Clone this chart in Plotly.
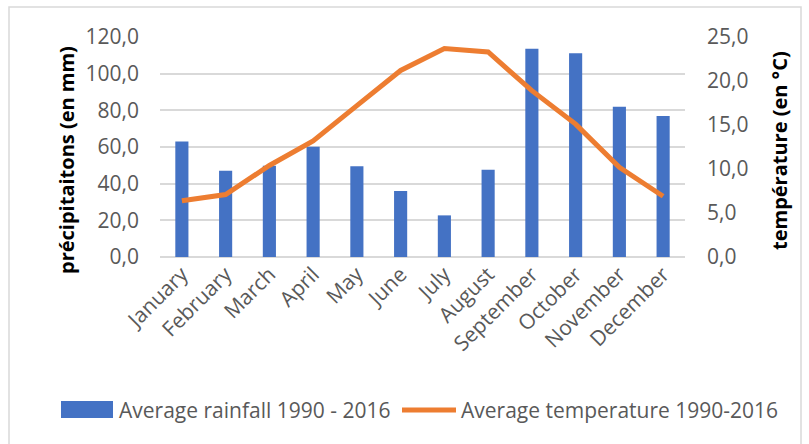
import plotly.graph_objects as go

months = ["January", "February", "March", "April", "May", "June", "July",
          "August", "September", "October", "November", "December"]
rainfall = [63.0, 47.0, 49.8, 60.2, 49.5, 36.0, 22.7, 47.6, 113.6, 111.1, 82.0, 76.9]
temperature = [6.4, 7.1, 10.4, 13.2, 17.2, 21.2, 23.7, 23.3, 18.9, 15.1, 10.2, 6.9]

left_ticks = [0, 20, 40, 60, 80, 100, 120]
right_ticks = [0, 5, 10, 15, 20, 25]

rain_name = "Average rainfall 1990 - 2016"
temp_name = "Average temperature 1990-2016"
left_title = "précipitaitons (en mm)"
right_title = "température (en °C)"

FONT = "Open Sans, sans-serif"
GREY = "#595959"
BLUE = "#4472C4"
ORANGE = "#ED7D31"

# plot area in pixels
W, H = 809, 444
L, R, T, B = 160, 124, 37, 187
PW, PH = W - L - R, H - T - B


def px(x):
    return (x - L) / PW


def py(y):
    return (H - B - y) / PH


fig = go.Figure()
fig.add_trace(go.Bar(
    x=months, y=rainfall, name=rain_name,
    marker=dict(color=BLUE, line=dict(width=0)),
))
fig.add_trace(go.Scatter(
    x=months, y=temperature, name=temp_name,
    mode="lines", yaxis="y2",
    line=dict(color=ORANGE, width=5),
))

title_font = dict(family=FONT, size=20, color="black", weight="bold")

fig.update_layout(
    width=W, height=H,
    margin=dict(l=L, r=R, t=T, b=B),
    paper_bgcolor="white", plot_bgcolor="white",
    separators=", ",
    bargap=0.7,
    showlegend=False,
    font=dict(family=FONT, size=21, color=GREY),
    xaxis=dict(
        tickangle=-45, tickfont=dict(size=21, color=GREY),
        showgrid=False, showline=False, ticks="",
    ),
    yaxis=dict(
        range=[0, 120], tickvals=left_ticks, tickformat=".1f",
        gridcolor="#d9d9d9", gridwidth=1.5, zeroline=True, zerolinecolor="#d9d9d9",
        zerolinewidth=1.5, tickfont=dict(size=21, color=GREY), ticks="",
        ticklabelstandoff=20,
    ),
    yaxis2=dict(
        range=[0, 25], tickvals=right_ticks, tickformat=".1f",
        overlaying="y", side="right", showgrid=False, zeroline=False,
        tickfont=dict(size=21, color=GREY), ticks="",
        ticklabelstandoff=21,
    ),
    shapes=[
        # chart frame
        dict(type="rect", xref="paper", yref="paper",
             x0=px(9), x1=px(801), y0=py(460), y1=py(7),
             line=dict(color="#d9d9d9", width=1.5), fillcolor="rgba(0,0,0,0)", layer="below"),
        # legend keys
        dict(type="rect", xref="paper", yref="paper",
             x0=px(61), x1=px(113), y0=py(418), y1=py(401),
             line=dict(width=0), fillcolor=BLUE),
        dict(type="line", xref="paper", yref="paper",
             x0=px(402), x1=px(456), y0=py(410), y1=py(410),
             line=dict(color=ORANGE, width=5)),
    ],
    annotations=[
        # axis titles
        dict(text=left_title, xref="paper", yref="paper", x=px(66), y=py(160),
             xanchor="center", yanchor="middle", textangle=-90, showarrow=False,
             font=title_font),
        dict(text=right_title, xref="paper", yref="paper", x=px(779), y=py(151),
             xanchor="center", yanchor="middle", textangle=-90, showarrow=False,
             font=title_font),
        # legend labels
        dict(text=rain_name, xref="paper", yref="paper", x=px(117), y=py(410),
             xanchor="left", yanchor="middle", showarrow=False,
             font=dict(size=21, color=GREY)),
        dict(text=temp_name, xref="paper", yref="paper", x=px(459), y=py(410),
             xanchor="left", yanchor="middle", showarrow=False,
             font=dict(size=21, color=GREY)),
    ],
)

fig.write_html("out.html")
